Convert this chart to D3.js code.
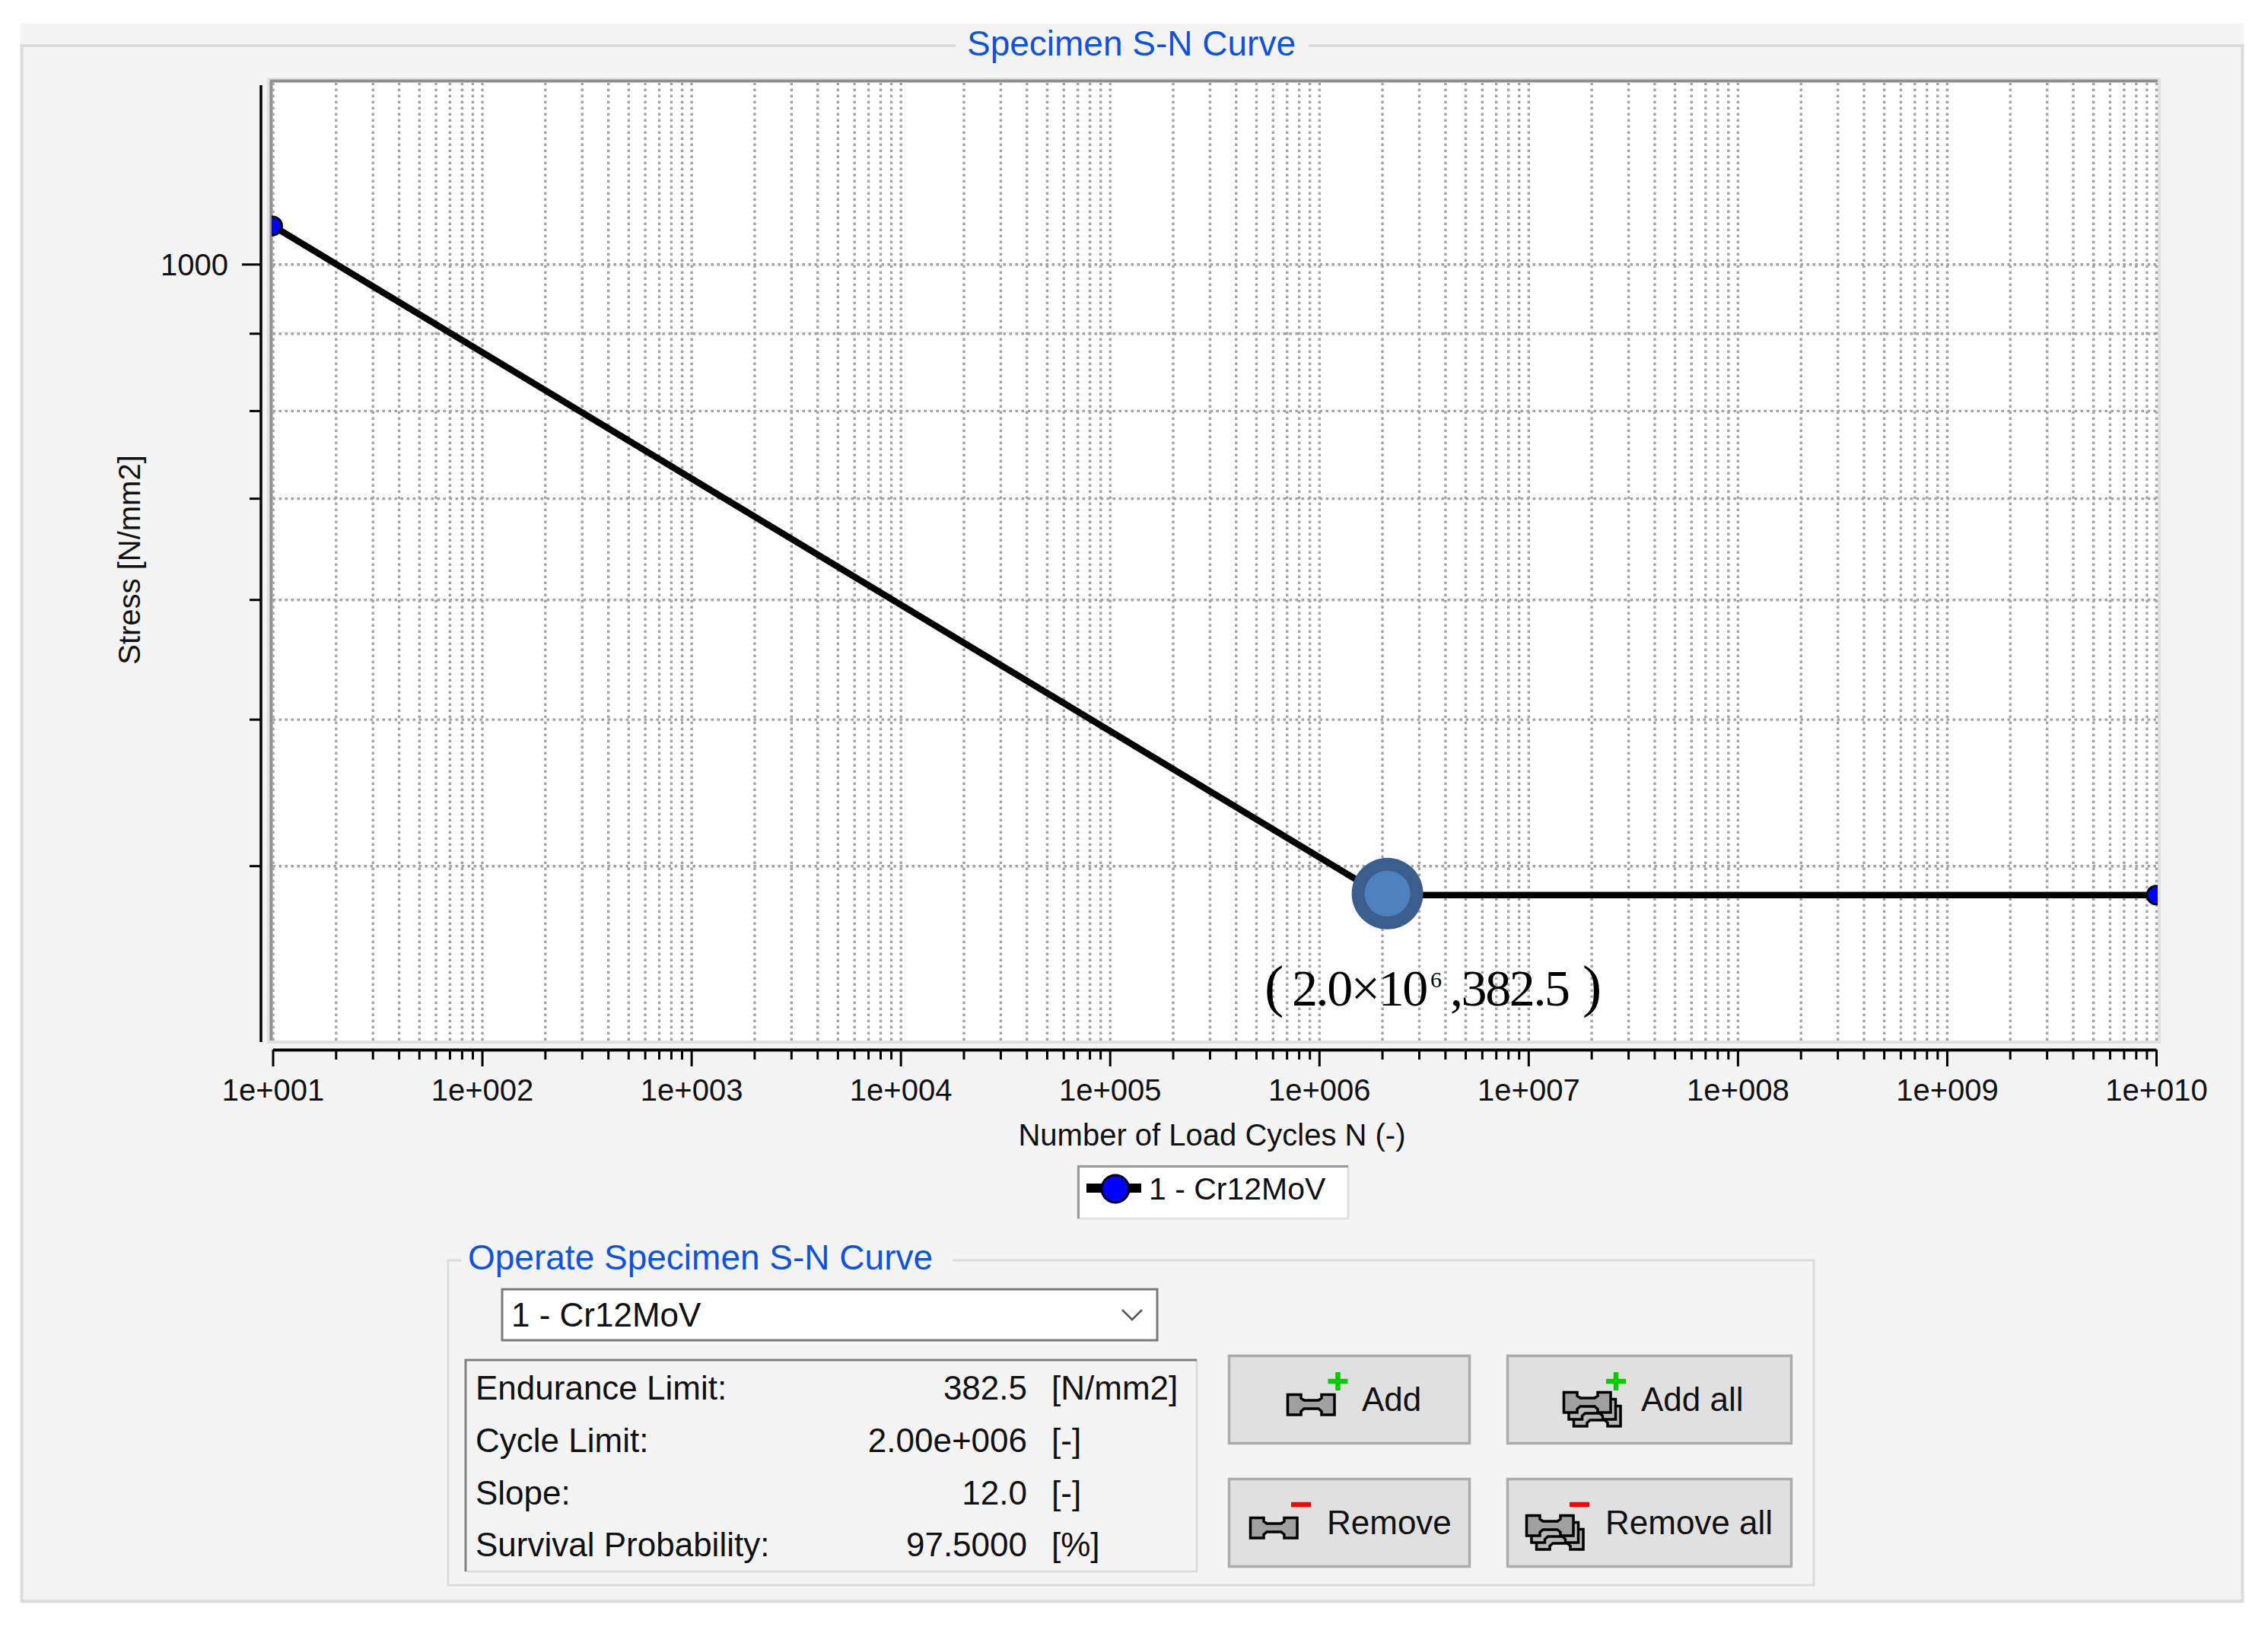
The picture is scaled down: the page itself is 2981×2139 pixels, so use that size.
<!DOCTYPE html>
<html>
<head>
<meta charset="utf-8">
<script src="https://cdn.jsdelivr.net/npm/d3@7"></script>
<style>
    html, body { margin: 0; padding: 0; background: #fff; }
    svg { display: block; }
    text { font-family: "Liberation Sans", Arial, sans-serif; fill: #111; }
</style>
</head>
<body>
<svg id="chart" width="2981" height="2139"></svg>
<script>
// curve
const cycles = [10, 2e6, 1e10];
const stress = [1060, 382.5, 382.5];

// axes
const xMajor = [1e1, 1e2, 1e3, 1e4, 1e5, 1e6, 1e7, 1e8, 1e9, 1e10];
const xLabels = ['1e+001', '1e+002', '1e+003', '1e+004', '1e+005', '1e+006', '1e+007', '1e+008', '1e+009', '1e+010'];
const yMajor = [1000];
const yMinor = [900, 800, 700, 600, 500, 400];

// side table and buttons
const rowLabels = ['Endurance Limit:', 'Cycle Limit:', 'Slope:', 'Survival Probability:'];
const rowValues = ['382.5', '2.00e+006', '12.0', '97.5000'];
const rowUnits = ['[N/mm2]', '[-]', '[-]', '[%]'];
const rowBaselines = [1840, 1909, 1978, 2046];
const specimen = '1 - Cr12MoV';

const svg = d3.select('#chart');
const blue = '#0f52e0';

// setting up the window panel
svg.append('rect').attr('x', 27).attr('y', 31).attr('width', 2922).attr('height', 2077).attr('fill', '#f4f4f4');
svg.append('rect').attr('x', 28.5).attr('y', 60).attr('width', 2919).attr('height', 2045)
    .attr('fill', 'none').attr('stroke', '#dcdcdc').attr('stroke-width', 4);
svg.append('rect').attr('x', 1256).attr('y', 50).attr('width', 464).attr('height', 20).attr('fill', '#f4f4f4');
svg.append('text').attr('x', 1487).attr('y', 73).attr('text-anchor', 'middle')
    .attr('font-size', 46).style('fill', blue).text('Specimen S-N Curve');

// plot area
const plotLeft = 358.5, plotRight = 2834, plotTop = 107, plotBottom = 1368;
svg.append('rect').attr('x', 351).attr('y', 102).attr('width', 2489).attr('height', 1270).attr('fill', '#e0e0e0');
svg.append('rect').attr('x', 355).attr('y', 105).attr('width', 2481).attr('height', 1263).attr('fill', '#fff');
svg.append('path').attr('d', 'M356.5,1368V106.5H2836').attr('fill', 'none').attr('stroke', '#8f8f8f').attr('stroke-width', 4);

// setting the scales
const xScale = d3.scaleLog().domain([10, 1e10]).range([plotLeft, plotRight]);
const yScale = d3.scaleLog().domain([306.5, 1321]).range([plotBottom, plotTop]);

const xMinor = [];
xMajor.slice(0, -1).forEach(d => {
    [2, 3, 4, 5, 6, 7, 8, 9].forEach(m => xMinor.push(d * m));
});

// grid
const gridX = svg.append('g').attr('transform', `translate(0,${plotBottom})`)
    .call(d3.axisBottom(xScale).tickValues(xMajor.concat(xMinor)).tickSize(-(plotBottom - plotTop - 2)).tickFormat(''));
const gridY = svg.append('g').attr('transform', `translate(${plotLeft},0)`)
    .call(d3.axisLeft(yScale).tickValues(yMajor.concat(yMinor)).tickSize(-(plotRight - plotLeft)).tickFormat(''));
[gridX, gridY].forEach(g => {
    g.select('.domain').remove();
    g.selectAll('line').attr('stroke', '#a3a3a3').attr('stroke-width', 3.4).attr('stroke-dasharray', '3.6 4.4');
});

// x axis
const xAxisY = 1380;
const xMinorAxis = svg.append('g').attr('transform', `translate(0,${xAxisY})`)
    .call(d3.axisBottom(xScale).tickValues(xMinor).tickSize(13).tickFormat(''));
xMinorAxis.select('.domain').remove();
const xAxis = svg.append('g').attr('transform', `translate(0,${xAxisY})`)
    .call(d3.axisBottom(xScale).tickValues(xMajor).tickSize(22).tickSizeOuter(0)
        .tickFormat((d, i) => xLabels[i]));
xAxis.select('.domain').attr('stroke', '#000').attr('stroke-width', 4);
xAxis.selectAll('text').attr('y', 67).attr('dy', 0).attr('font-size', 40);
xAxis.attr('font-family', null).attr('font-size', null);
[xMinorAxis, xAxis].forEach(g => g.selectAll('line').attr('stroke', '#000').attr('stroke-width', 3));

// y axis
const yAxisX = 343;
svg.append('line').attr('x1', yAxisX).attr('x2', yAxisX).attr('y1', 112).attr('y2', 1370)
    .attr('stroke', '#000').attr('stroke-width', 3.5);
const yMinorAxis = svg.append('g').attr('transform', `translate(${yAxisX},0)`)
    .call(d3.axisLeft(yScale).tickValues(yMinor).tickSize(15).tickFormat(''));
yMinorAxis.select('.domain').remove();
const yAxis = svg.append('g').attr('transform', `translate(${yAxisX},0)`)
    .call(d3.axisLeft(yScale).tickValues(yMajor).tickSize(25).tickFormat(d => d));
yAxis.select('.domain').remove();
yAxis.selectAll('text').attr('x', -43).attr('dy', 14).attr('font-size', 40);
yAxis.attr('font-family', null).attr('font-size', null);
[yMinorAxis, yAxis].forEach(g => g.selectAll('line').attr('stroke', '#000').attr('stroke-width', 3));

// axis titles
svg.append('text').attr('x', 1593).attr('y', 1506).attr('text-anchor', 'middle')
    .attr('font-size', 40).text('Number of Load Cycles N (-)');
svg.append('text').attr('transform', 'translate(184,736) rotate(-90)').attr('text-anchor', 'middle')
    .attr('font-size', 40).text('Stress [N/mm2]');

// curve
svg.append('clipPath').attr('id', 'plot-clip').append('rect')
    .attr('x', 357).attr('y', plotTop).attr('width', 2479).attr('height', plotBottom - plotTop);
const plot = svg.append('g').attr('clip-path', 'url(#plot-clip)');
const curve = cycles.map((c, i) => [c, stress[i]]);
plot.append('path').datum(curve)
    .attr('fill', 'none').attr('stroke', '#000').attr('stroke-width', 8.5)
    .attr('d', d3.line().x(d => xScale(d[0])).y(d => yScale(d[1])));
plot.selectAll('.end-point')
    .data([curve[0], curve[2]])
    .join('circle')
        .attr('class', 'end-point')
        .attr('cx', d => xScale(d[0]))
        .attr('cy', d => yScale(d[1]))
        .attr('r', 12)
        .attr('fill', '#0000ff')
        .attr('stroke', '#000')
        .attr('stroke-width', 3);

// knee marker, sits a little right of the true point in the original
const knee = curve[1];
svg.append('circle').attr('cx', xScale(knee[0]) + 7).attr('cy', yScale(knee[1]) - 2).attr('r', 47).attr('fill', '#3a5f8f');
svg.append('circle').attr('cx', xScale(knee[0]) + 7).attr('cy', yScale(knee[1]) - 2).attr('r', 30).attr('fill', '#4f81bd');

// annotation
const note = svg.append('text').attr('y', 1322).attr('font-size', 68).attr('letter-spacing', -2.4).style('fill', '#000');
const noteParts = [
    { t: '(', x: 1662, s: 76, dy: 0 },
    { t: '2.0×10', x: 1698, s: 68, dy: 0 },
    { t: '6', x: 1880, s: 30, dy: -24 },
    { t: ',382.5', x: 1906, s: 68, dy: 24 },
    { t: ')', x: 2080, s: 76, dy: 0 }
];
noteParts.forEach(p => {
    note.append('tspan').attr('x', p.x).attr('dy', p.dy).attr('font-size', p.s)
        .style('font-family', '"Liberation Serif", serif').text(p.t);
});

// legend
svg.append('rect').attr('x', 1417).attr('y', 1533).attr('width', 355).attr('height', 69)
    .attr('fill', '#fff').attr('stroke', '#e2e2e2').attr('stroke-width', 3);
svg.append('path').attr('d', 'M1417.5,1602V1533.5H1772').attr('fill', 'none').attr('stroke', '#999').attr('stroke-width', 3);
svg.append('line').attr('x1', 1428).attr('x2', 1500).attr('y1', 1562).attr('y2', 1562)
    .attr('stroke', '#000').attr('stroke-width', 12);
svg.append('circle').attr('cx', 1466).attr('cy', 1563).attr('r', 18).attr('fill', '#0000ff')
    .attr('stroke', '#000').attr('stroke-width', 3);
svg.append('text').attr('x', 1510).attr('y', 1577).attr('font-size', 41).text(specimen);

// operate group
svg.append('rect').attr('x', 589).attr('y', 1657).attr('width', 1795).attr('height', 427)
    .attr('fill', 'none').attr('stroke', '#dcdcdc').attr('stroke-width', 3);
svg.append('rect').attr('x', 606).attr('y', 1645).attr('width', 646).attr('height', 22).attr('fill', '#f4f4f4');
svg.append('text').attr('x', 615).attr('y', 1669).attr('font-size', 46).style('fill', blue).text('Operate Specimen S-N Curve');

// combo box
svg.append('rect').attr('x', 660).attr('y', 1695).attr('width', 861).attr('height', 67)
    .attr('fill', '#fff').attr('stroke', '#7a7a7a').attr('stroke-width', 3);
svg.append('text').attr('x', 672).attr('y', 1744).attr('font-size', 44).text(specimen);
svg.append('path').attr('d', 'M1475,1722L1488,1735L1501,1722').attr('fill', 'none').attr('stroke', '#555').attr('stroke-width', 2.5);

// table
svg.append('path').attr('d', 'M612,2066H1573V1787').attr('fill', 'none').attr('stroke', '#dcdcdc').attr('stroke-width', 3);
svg.append('path').attr('d', 'M612,2066V1788H1573').attr('fill', 'none').attr('stroke', '#808080').attr('stroke-width', 3);
const rows = svg.selectAll('.row').data(rowLabels).join('g').attr('class', 'row')
    .attr('transform', (d, i) => `translate(0,${rowBaselines[i]})`);
rows.append('text').attr('x', 625).attr('font-size', 44).text(d => d);
rows.append('text').attr('x', 1350).attr('text-anchor', 'end').attr('font-size', 44).text((d, i) => rowValues[i]);
rows.append('text').attr('x', 1382).attr('font-size', 44).text((d, i) => rowUnits[i]);

// buttons
const buttons = [
    { label: 'Add', x: 1614, y: 1781, w: 319, tx: 1790, ty: 1855, ix: 1691, iy: 1832, stack: false, sign: '+', sx: 1758.5, sy: 1816 },
    { label: 'Add all', x: 1980, y: 1781, w: 376, tx: 2157, ty: 1855, ix: 2054, iy: 1829, stack: true, sign: '+', sx: 2124, sy: 1816 },
    { label: 'Remove', x: 1614, y: 1943, w: 319, tx: 1744, ty: 2017, ix: 1642, iy: 1994, stack: false, sign: '-', sx: 1710, sy: 1978 },
    { label: 'Remove all', x: 1980, y: 1943, w: 376, tx: 2110, ty: 2017, ix: 2005, iy: 1991, stack: true, sign: '-', sx: 2076, sy: 1978 }
];
const boneShape = 'M1.5,1.5H19V6L23,9H42L46,6V1.5H63V28H46V23.5L42,20H23L19,23.5V28H1.5Z';

function drawBone(g, x, y, fill) {
    g.append('path').attr('transform', `translate(${x},${y})`).attr('d', boneShape)
        .attr('fill', fill).attr('stroke', '#000').attr('stroke-width', 3.5);
}

buttons.forEach(b => {
    const g = svg.append('g');
    g.append('rect').attr('x', b.x + 1.5).attr('y', b.y + 1.5).attr('width', b.w - 3).attr('height', 115)
        .attr('fill', '#e0e0e0').attr('stroke', '#acacac').attr('stroke-width', 3.5);
    if (b.stack) {
        drawBone(g, b.ix + 13, b.iy + 18, '#b8b8b8');
        drawBone(g, b.ix + 6.5, b.iy + 9, '#b8b8b8');
    }
    drawBone(g, b.ix, b.iy, '#a0a0a0');
    if (b.sign === '+') {
        g.append('path').attr('d', `M${b.sx - 13},${b.sy}H${b.sx + 13}M${b.sx},${b.sy - 12}V${b.sy + 12}`)
            .attr('stroke', '#00cc00').attr('stroke-width', 6.5).attr('fill', 'none');
    } else {
        g.append('path').attr('d', `M${b.sx - 13},${b.sy}H${b.sx + 13}`)
            .attr('stroke', '#ff0000').attr('stroke-width', 6.5).attr('fill', 'none');
    }
    g.append('text').attr('x', b.tx).attr('y', b.ty).attr('font-size', 44).text(b.label);
});
</script>
</body>
</html>
